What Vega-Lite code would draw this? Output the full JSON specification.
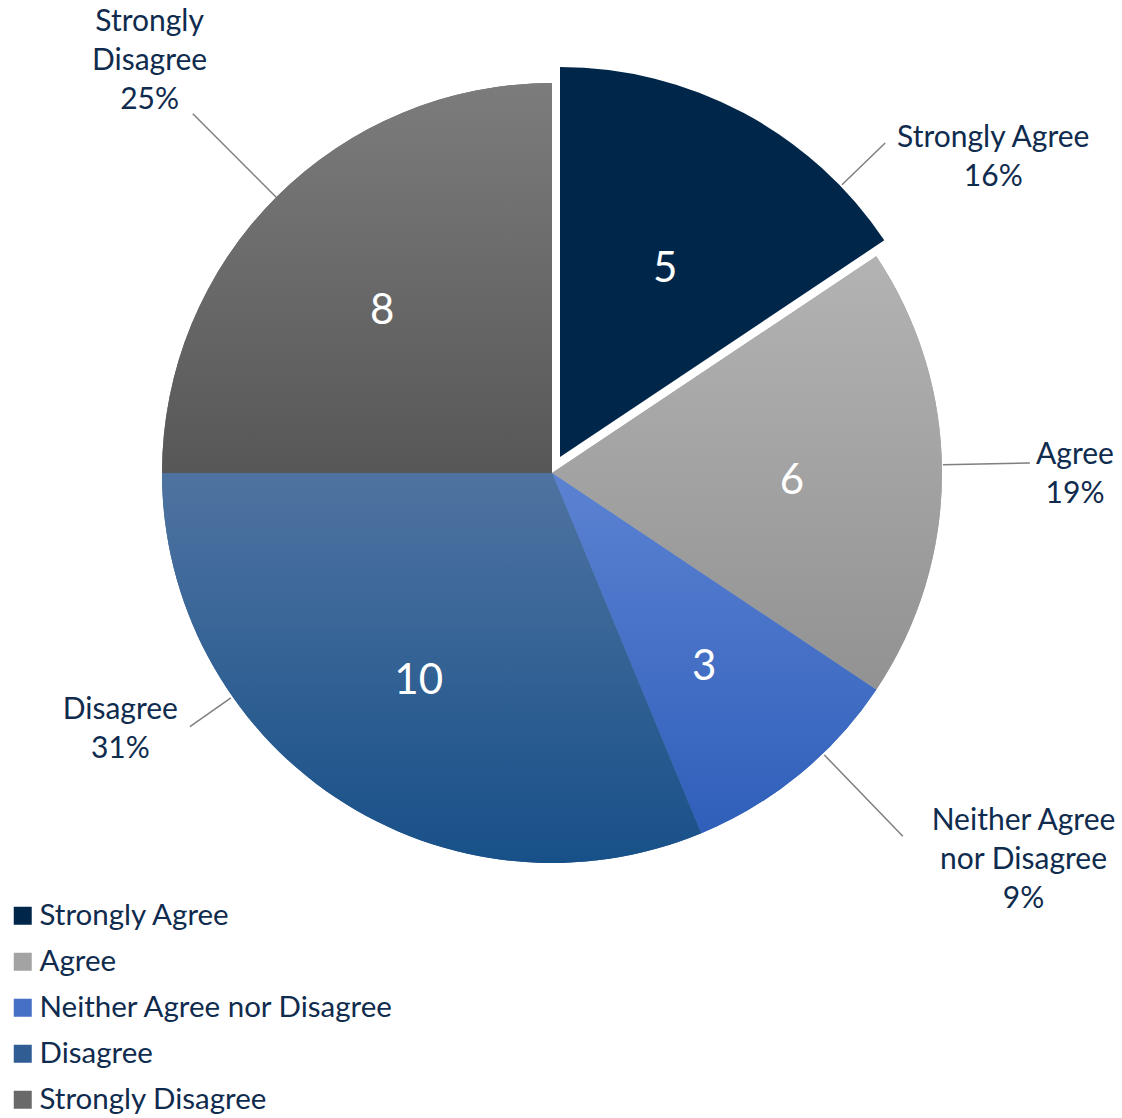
{
  "$schema": "https://vega.github.io/schema/vega-lite/v6.json",
  "width": 1104,
  "height": 946,
  "padding": {"left": 0, "top": 0, "right": 18, "bottom": 172},
  "autosize": {"type": "none"},
  "background": "white",
  "config": {"view": {"stroke": null}, "font": "Lato"},
  "data": {"values": [
    {"response": "Strongly Agree", "count": 5, "rank": 1, "label": "Strongly Agree\n16%"},
    {"response": "Agree", "count": 6, "rank": 2, "label": "Agree\n19%"},
    {"response": "Neither Agree nor Disagree", "count": 3, "rank": 3, "label": "Neither Agree\nnor Disagree\n9%"},
    {"response": "Disagree", "count": 10, "rank": 4, "label": "Disagree\n31%"},
    {"response": "Strongly Disagree", "count": 8, "rank": 5, "label": "Strongly\nDisagree\n25%"}
  ]},
  "layer": [
    {
      "encoding": {
        "theta": {"field": "count", "type": "quantitative", "stack": true},
        "order": {"field": "rank", "type": "quantitative"}
      },
      "layer": [
        {
          "mark": {"type": "arc", "outerRadius": 390},
          "encoding": {
            "color": {
              "field": "response", "type": "nominal",
              "sort": ["Strongly Agree", "Agree", "Neither Agree nor Disagree", "Disagree", "Strongly Disagree"],
              "scale": {
                "domain": ["Strongly Agree", "Agree", "Neither Agree nor Disagree", "Disagree", "Strongly Disagree"],
                "range": ["#00264a", "#a3a3a3", "#4570c6", "#2f5d94", "#696969"]
              },
              "legend": {
                "title": null,
                "orient": "none",
                "legendX": 8,
                "legendY": 901,
                "symbolType": "square",
                "symbolSize": 324,
                "symbolStrokeWidth": 0,
                "symbolOpacity": 1,
                "labelFont": "Lato",
                "labelFontSize": 29.5,
                "labelColor": "#0f2b4e",
                "labelOffset": 2,
                "rowPadding": 15,
                "labelLimit": 600
              }
            },
            "opacity": {"condition": {"test": "datum.response === 'Strongly Agree'", "value": 0}, "value": 1}
          }
        },
        {
          "mark": {"type": "arc", "outerRadius": 390, "xOffset": 8, "yOffset": -16, "fill": "#00264a"},
          "encoding": {
            "opacity": {"condition": {"test": "datum.response === 'Strongly Agree'", "value": 1}, "value": 0}
          }
        },
        {
          "mark": {"type": "arc", "outerRadius": 390, "fill": {"gradient": "linear", "x1": 0, "y1": 0, "x2": 0, "y2": 1, "stops": [{"offset": 0, "color": "#b3b3b3"}, {"offset": 1, "color": "#929292"}]}},
          "encoding": {"opacity": {"condition": {"test": "datum.response === 'Agree'", "value": 1}, "value": 0}}
        },
        {
          "mark": {"type": "arc", "outerRadius": 390, "fill": {"gradient": "linear", "x1": 0, "y1": 0, "x2": 0, "y2": 1, "stops": [{"offset": 0, "color": "#5c82d2"}, {"offset": 1, "color": "#2f5fba"}]}},
          "encoding": {"opacity": {"condition": {"test": "datum.response === 'Neither Agree nor Disagree'", "value": 1}, "value": 0}}
        },
        {
          "mark": {"type": "arc", "outerRadius": 390, "fill": {"gradient": "linear", "x1": 0, "y1": 0, "x2": 0, "y2": 1, "stops": [{"offset": 0, "color": "#4f73a1"}, {"offset": 1, "color": "#175088"}]}},
          "encoding": {"opacity": {"condition": {"test": "datum.response === 'Disagree'", "value": 1}, "value": 0}}
        },
        {
          "mark": {"type": "arc", "outerRadius": 390, "fill": {"gradient": "linear", "x1": 0, "y1": 0, "x2": 0, "y2": 1, "stops": [{"offset": 0, "color": "#7c7c7c"}, {"offset": 1, "color": "#575757"}]}},
          "encoding": {"opacity": {"condition": {"test": "datum.response === 'Strongly Disagree'", "value": 1}, "value": 0}}
        },
        {
          "mark": {"type": "text", "radius": 240, "dy": 8, "fontSize": 42, "fill": "white", "font": "Lato"},
          "encoding": {"text": {"field": "count", "type": "quantitative"}}
        },
        {
          "mark": {"type": "text", "radius": 480, "dx": 215, "dy": 88, "fontSize": 30, "fill": "#0f2b4e", "lineBreak": "\n", "lineHeight": 39, "align": "center", "baseline": "middle"},
          "encoding": {"text": {"field": "label"}, "opacity": {"condition": {"test": "datum.response === 'Strongly Agree'", "value": 1}, "value": 0}}
        },
        {
          "mark": {"type": "text", "radius": 480, "dx": 43, "dy": -18, "fontSize": 30, "fill": "#0f2b4e", "lineBreak": "\n", "lineHeight": 39, "align": "center", "baseline": "middle"},
          "encoding": {"text": {"field": "label"}, "opacity": {"condition": {"test": "datum.response === 'Agree'", "value": 1}, "value": 0}}
        },
        {
          "mark": {"type": "text", "radius": 480, "dx": 167, "dy": -23, "fontSize": 30, "fill": "#0f2b4e", "lineBreak": "\n", "lineHeight": 39, "align": "center", "baseline": "middle"},
          "encoding": {"text": {"field": "label"}, "opacity": {"condition": {"test": "datum.response === 'Neither Agree nor Disagree'", "value": 1}, "value": 0}}
        },
        {
          "mark": {"type": "text", "radius": 480, "dx": -165, "dy": -162, "fontSize": 30, "fill": "#0f2b4e", "lineBreak": "\n", "lineHeight": 39, "align": "center", "baseline": "middle"},
          "encoding": {"text": {"field": "label"}, "opacity": {"condition": {"test": "datum.response === 'Disagree'", "value": 1}, "value": 0}}
        },
        {
          "mark": {"type": "text", "radius": 480, "dx": -63, "dy": -112, "fontSize": 30, "fill": "#0f2b4e", "lineBreak": "\n", "lineHeight": 39, "align": "center", "baseline": "middle"},
          "encoding": {"text": {"field": "label"}, "opacity": {"condition": {"test": "datum.response === 'Strongly Disagree'", "value": 1}, "value": 0}}
        }
      ]
    },
    {
      "transform": [{"filter": "datum.response === 'Strongly Agree'"}],
      "mark": {"type": "arc", "theta": 0.8029, "theta2": 0.8029, "radius": 452, "radius2": 392, "xOffset": 8, "yOffset": -16, "fill": null, "stroke": "#7f7f7f", "strokeWidth": 1.5},
      "encoding": {}
    },
    {
      "transform": [{"filter": "datum.response === 'Agree'"}],
      "mark": {"type": "arc", "theta": 1.5499, "theta2": 1.5499, "radius": 478, "radius2": 391, "fill": null, "stroke": "#7f7f7f", "strokeWidth": 1.5},
      "encoding": {}
    },
    {
      "transform": [{"filter": "datum.response === 'Neither Agree nor Disagree'"}],
      "mark": {"type": "arc", "theta": 2.3736, "theta2": 2.3736, "radius": 505, "radius2": 392, "fill": null, "stroke": "#7f7f7f", "strokeWidth": 1.5},
      "encoding": {}
    },
    {
      "transform": [{"filter": "datum.response === 'Disagree'"}],
      "mark": {"type": "arc", "theta": 4.1015, "theta2": 4.1015, "radius": 442, "radius2": 392, "fill": null, "stroke": "#7f7f7f", "strokeWidth": 1.5},
      "encoding": {}
    },
    {
      "transform": [{"filter": "datum.response === 'Strongly Disagree'"}],
      "mark": {"type": "arc", "theta": 5.4978, "theta2": 5.4978, "radius": 508, "radius2": 390, "fill": null, "stroke": "#7f7f7f", "strokeWidth": 1.5},
      "encoding": {}
    }
  ]
}
